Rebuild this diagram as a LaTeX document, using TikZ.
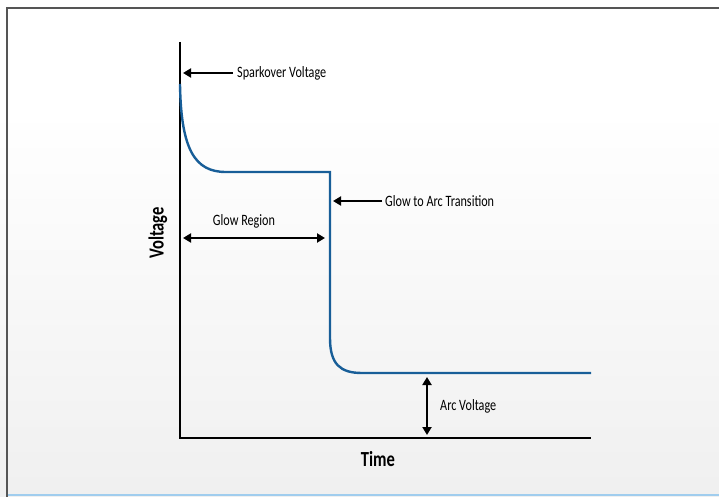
\documentclass[tikz,border=0pt]{standalone}
\usepackage{fontspec}
\setmainfont{Carlito}
\newfontfamily\condfont[FakeStretch=0.77]{Carlito}
\usetikzlibrary{arrows.meta}
\definecolor{curveblue}{RGB}{24,94,152}
\definecolor{framegray}{RGB}{85,85,85}
\definecolor{bottomblue}{RGB}{160,205,238}
\tikzset{
  axisline/.style={line width=2.4pt, black},
  pointer/.style={line width=2pt, -{Triangle[length=8pt,width=9pt]}},
  twoway/.style={line width=2pt, {Triangle[length=8pt,width=9pt]}-{Triangle[length=8pt,width=9pt]}},
  lbl/.style={font=\condfont\fontsize{15.8}{17}\selectfont, anchor=west, inner sep=0pt},
  axlbl/.style={font=\condfont\bfseries\fontsize{21.5}{23}\selectfont, inner sep=0pt},
}
\begin{document}
\begin{tikzpicture}[x=1pt,y=-1pt]
\useasboundingbox (0,0) rectangle (719,497);
\fill[white] (0,0) rectangle (719,110);
\shade[top color=white, bottom color=black!6] (0,110) rectangle (719,497);
% frame
\draw[framegray, line width=2pt] (7,497) -- (7,8) -- (719,8);
\draw[bottomblue, line width=2pt] (8,495) -- (719,495);
% axes
\coordinate (ytop) at (180,42);
\coordinate (origin) at (180,438);
\coordinate (xend) at (591,438);
\draw[axisline] (ytop) -- (origin) -- (xend);
% curve
\coordinate (c0) at (180,84);
\coordinate (c1) at (226,172);
\coordinate (c2) at (330,172);
\coordinate (c3) at (330,338);
\coordinate (c4) at (362,373);
\coordinate (c5) at (591,373);
\draw[curveblue, line width=2.4pt, line join=miter]
  (c0) .. controls (181,150) and (195,172) .. (c1) -- (c2) -- (c3)
  .. controls (330,364) and (340,373) .. (c4) -- (c5);
% labels
\node[lbl] (spark) at (237,73) {Sparkover Voltage};
\coordinate (sparktip) at (183,73);
\draw[pointer] (spark.west) ++(-4,0) coordinate (sparkstart) -- (sparktip);

\node[lbl] (trans) at (385,201) {Glow to Arc Transition};
\coordinate (transtip) at (333,201);
\draw[pointer] (trans.west) ++(-3,0) coordinate (transstart) -- (transtip);

\node[font=\condfont\fontsize{15.8}{17}\selectfont, inner sep=0pt] (glow) at (244,221) {Glow Region};
\coordinate (glowl) at (183,238);
\coordinate (glowr) at (325,238);
\draw[twoway] (glowl) -- (glowr);

\node[lbl] (arc) at (440,406) {Arc Voltage};
\coordinate (arctop) at (427,377);
\coordinate (arcbot) at (427,435);
\draw[twoway] (arctop) -- (arcbot);

\node[axlbl] (time) at (378,459) {Time};
\node[axlbl, rotate=90] (volt) at (158,233) {Voltage};
\end{tikzpicture}
\end{document}
